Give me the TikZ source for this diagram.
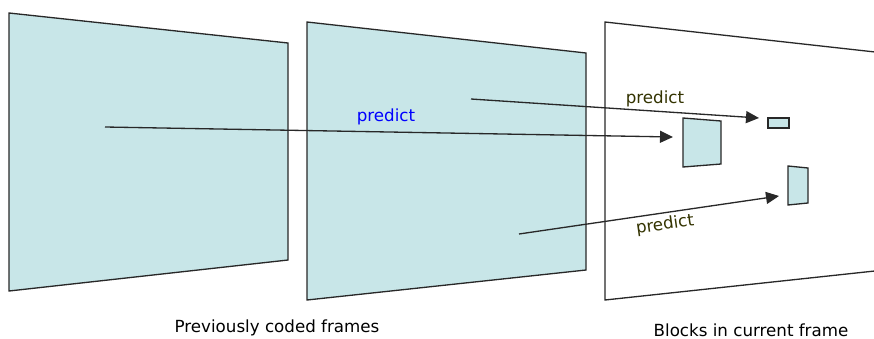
\documentclass[tikz,border=0pt]{standalone}
\usepackage{fontspec}
\setmainfont{DejaVu Sans}
\usetikzlibrary{arrows.meta,calc,positioning}

\definecolor{framefill}{RGB}{200,230,232}
\definecolor{olivetext}{RGB}{51,51,0}
\definecolor{edgegray}{RGB}{40,40,40}

\begin{document}
\begin{tikzpicture}[>={Triangle[length=2.6mm,width=2.4mm]}, x=0.02cm, y=-0.02cm,
  frame/.style={draw=edgegray,line width=0.75pt,fill=framefill},
  block/.style={draw=edgegray,line width=0.75pt,fill=framefill},
  link/.style={->,draw=edgegray,line width=0.75pt},
  lbl/.style={font=\fontsize{9.5}{11}\selectfont,inner sep=0pt}]
  \useasboundingbox (0,0) rectangle (874,338);
  % previously coded frames
  \draw[frame] (9,13) -- (288,43) -- (288,260) -- (9,291) -- cycle;
  \draw[frame] (307,22) -- (586,53) -- (586,270) -- (307,300) -- cycle;
  % current frame, cut off at the right
  \begin{scope}
    \clip (0,0) rectangle (874,338);
    \draw[draw=edgegray,line width=0.75pt,fill=white] (605,22) -- (884,53) -- (884,270) -- (605,300) -- cycle;
  \end{scope}
  % blocks
  \draw[block] (683,118) -- (721,121) -- (721,164) -- (683,167) -- cycle;
  \draw[block] (768,118) -- (789,118) -- (789,128) -- (768,128) -- cycle;
  \draw[block] (788,166) -- (808,168) -- (808,203) -- (788,205) -- cycle;
  % arrow ends
  \coordinate (src1) at (105,127);
  \coordinate (dst1) at (673,137);
  \coordinate (src2) at (471,99);
  \coordinate (dst2) at (759,118);
  \coordinate (src3) at (519,234);
  \coordinate (dst3) at (779,196);
  \draw[link] (src1) -- (dst1);
  \draw[link] (src2) -- (dst2);
  \draw[link] (src3) -- (dst3);
  % labels
  \node[lbl,text=blue] (p1) at (386,117) {predict};
  \node[lbl,text=olivetext] (p2) at (655,99) {predict};
  \node[lbl,text=olivetext,rotate=8] (p3) at (665,225) {predict};
  \node[lbl] (prev) at (277,328) {Previously coded frames};
  \node[lbl] (cur) at (751,330) {Blocks in current frame};
\end{tikzpicture}
\end{document}
